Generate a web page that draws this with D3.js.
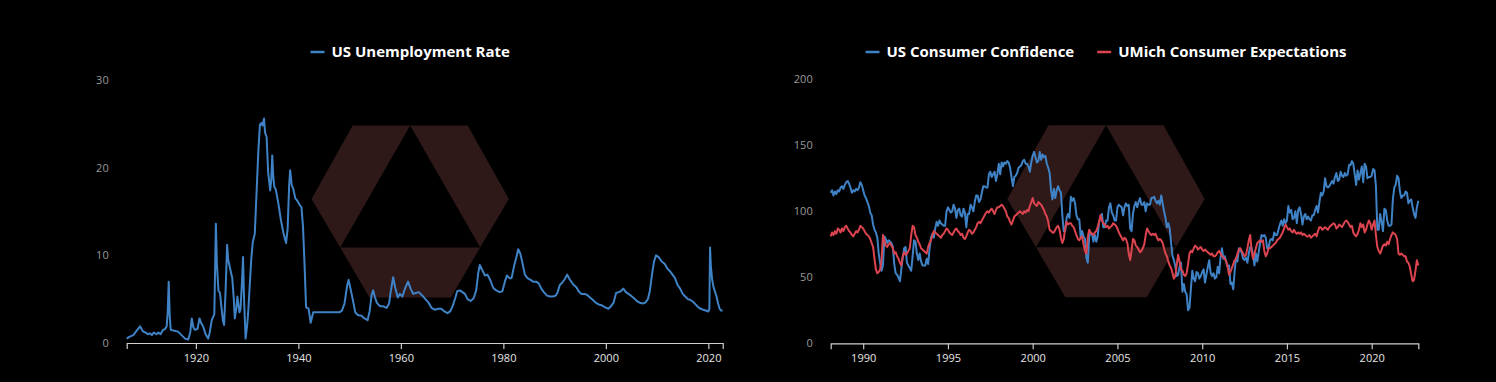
<!DOCTYPE html>
<html><head><meta charset="utf-8">
<script src="https://cdn.jsdelivr.net/npm/d3@7"></script>
<style>html,body{margin:0;padding:0;background:#000;} svg{display:block;}</style>
</head><body>
<svg id="chart" width="1496" height="382"></svg>
<script>
// ---------------- DATA ----------------
const unempLabel = "US Unemployment Rate";
const unempYears = [
1906.5,1907.0,1907.8,1908.3,1909.1,1909.4,1909.7,1910.2,1910.6,1911.0,1911.4,1911.8,1912.3,1912.7,1913.1,1913.6,1914.0,1914.3,1914.5,1914.7,1914.9,1915.1,1915.8,1916.5,1917.2,1917.9,1918.5,1918.9,1919.2,1919.5,1919.8,1920.3,1920.7,1921.0,1921.4,1921.9,1922.4,1922.7,1923.1,1923.6,1923.9,1924.1,1924.4,1924.7,1925.0,1925.3,1925.5,1925.8,1926.1,1926.3,1926.6,1927.1,1927.4,1927.6,1927.9,1928.1,1928.5,1928.7,1929.0,1929.2,1929.4,1929.7,1930.0,1930.2,1930.5,1930.8,1931.1,1931.5,1931.9,1932.2,1932.5,1932.8,1933.0,1933.3,1933.5,1933.8,1934.1,1934.5,1934.7,1934.9,1935.1,1935.3,1935.6,1936.1,1936.6,1937.1,1937.6,1937.9,1938.2,1938.4,1938.7,1939.0,1939.4,1939.7,1940.3,1940.6,1940.9,1941.2,1941.5,1942.0,1942.4,1942.9,1948.0,1948.5,1949.0,1949.5,1949.8,1950.1,1950.6,1951.1,1951.6,1952.3,1952.9,1953.5,1953.9,1954.3,1954.6,1954.9,1955.3,1955.9,1956.5,1957.2,1957.7,1958.0,1958.5,1958.9,1959.4,1959.8,1960.3,1960.8,1961.4,1961.9,1962.4,1962.9,1963.5,1964.2,1964.8,1965.4,1966.0,1966.6,1967.3,1967.9,1968.5,1969.1,1969.6,1970.1,1970.6,1971.0,1971.5,1972.0,1972.5,1973.0,1973.6,1974.2,1974.7,1975.1,1975.4,1975.9,1976.4,1976.9,1977.5,1978.0,1978.6,1979.3,1979.8,1980.3,1980.7,1981.2,1981.6,1982.1,1982.5,1982.9,1983.3,1983.7,1984.2,1984.7,1985.3,1985.8,1986.4,1986.9,1987.4,1987.9,1988.5,1989.1,1989.7,1990.2,1990.6,1991.0,1991.5,1992.0,1992.45,1992.9,1993.6,1994.2,1994.7,1995.2,1995.8,1996.3,1996.9,1997.5,1998.0,1998.6,1999.2,1999.8,2000.5,2001.0,2001.5,2002.0,2002.5,2002.9,2003.4,2003.9,2004.4,2004.9,2005.5,2006.0,2006.6,2007.2,2007.7,2008.2,2008.6,2009.0,2009.4,2009.8,2010.3,2010.9,2011.5,2012.0,2012.5,2013.0,2013.5,2014.0,2014.5,2015.0,2015.5,2016.0,2016.5,2017.0,2017.5,2018.0,2018.5,2019.0,2019.5,2020.0,2020.2,2020.33,2020.5,2020.75,2021.0,2021.3,2021.6,2021.9,2022.2,2022.5,2022.8];
const unempValues = [
0.5,0.7,0.9,1.3,1.9,1.6,1.3,1.2,1.0,1.1,0.9,1.2,1.0,1.2,1.0,1.5,1.6,1.9,3.5,7.0,3.0,1.5,1.4,1.3,0.9,0.5,0.4,1.2,2.8,1.8,1.5,1.6,2.8,2.3,1.9,1.0,0.5,1.2,2.6,3.3,13.6,9.0,6.0,5.7,4.0,2.5,2.05,6.0,11.2,9.5,8.7,7.4,5.0,2.8,4.0,5.3,3.5,3.8,7.0,9.8,5.0,0.5,2.0,3.4,6.5,9.5,11.5,12.5,18.0,22.0,24.9,25.1,24.8,25.6,24.0,23.5,19.5,17.4,18.5,21.4,19.0,17.8,17.5,15.9,14.0,12.5,11.4,13.0,18.0,19.7,18.0,17.6,16.5,16.3,15.7,15.5,13.3,9.0,4.1,3.9,2.3,3.5,3.5,3.7,4.5,6.5,7.2,6.4,5.0,3.5,3.2,3.1,2.8,2.6,3.6,5.5,6.0,5.3,4.6,4.2,4.2,4.0,4.5,5.8,7.5,6.3,5.2,5.6,5.3,6.2,7.0,6.2,5.6,5.7,5.8,5.4,5.0,4.6,4.0,3.8,3.9,3.9,3.6,3.4,3.6,4.2,5.1,5.9,6.0,5.8,5.6,5.0,4.8,5.1,6.0,8.0,8.9,8.3,7.7,7.8,7.1,6.3,6.0,5.8,5.9,7.0,7.7,7.4,7.4,8.8,9.7,10.7,10.2,9.2,7.8,7.4,7.2,7.0,7.0,6.8,6.2,5.8,5.4,5.3,5.3,5.4,5.8,6.6,6.9,7.3,7.8,7.3,6.7,6.4,5.9,5.6,5.6,5.5,5.2,4.9,4.6,4.4,4.3,4.1,3.9,4.2,4.6,5.7,5.8,5.9,6.2,5.8,5.6,5.4,5.1,4.8,4.6,4.5,4.6,5.0,6.0,7.8,9.3,10.0,9.8,9.3,9.0,8.5,8.2,7.8,7.4,6.6,6.2,5.6,5.3,5.0,4.9,4.7,4.4,4.1,3.9,3.8,3.7,3.6,3.9,10.9,8.7,7.2,6.4,5.85,5.3,4.5,3.9,3.7,3.7];
const unempYTicks = [0, 10, 20, 30];
const unempXTicks = [1920, 1940, 1960, 1980, 2000, 2020];

// Monthly, first month Jan 1988 (plotted at month end)
const confLabel = "US Consumer Confidence";
const confValues = [
114,116,112,115,113,116,115,118,119,117,120,122,
123,121,118,114,116,115,117,116,118,122,120,116,
112,110,107,104,99,97,90,86,84,80,68,61,
55,59,81,79,76,78,77,76,73,60,53,52,
50,47,56,65,72,73,61,59,57,55,66,78,
77,68,63,68,62,59,59,59,64,60,72,80,
83,80,87,92,89,93,91,90,89,89,100,103,
101,99,100,105,102,95,101,102,97,96,102,99,
88,98,98,105,103,100,107,112,112,107,109,114,
119,119,118,118,128,130,126,128,130,123,128,136,
128,137,134,137,136,138,137,133,126,119,126,127,
129,133,134,135,138,139,136,136,134,130,137,142,
145,141,137,138,145,139,143,141,142,136,133,129,
116,109,117,110,116,119,116,114,97,85,85,95,
98,95,111,108,110,106,97,94,94,80,85,81,
79,65,61,81,84,83,77,82,77,81,92,95,
98,88,88,93,93,103,106,99,97,93,93,103,
105,104,103,97,103,106,104,105,87,85,98,104,
107,103,107,110,105,105,107,100,106,105,105,110,
110,111,108,106,108,105,112,106,100,95,88,91,
87,76,66,63,58,51,52,58,61,39,45,39,
37,25,27,41,55,49,47,54,53,49,51,54,
56,46,52,58,63,53,51,53,49,50,58,53,
65,72,64,66,62,58,59,45,46,41,55,65,
62,72,70,69,64,63,65,61,68,73,72,67,
59,68,62,69,76,82,81,82,80,72,72,78,
79,78,84,82,82,86,90,93,89,94,91,93,
104,99,101,94,95,100,91,101,103,98,90,96,
98,94,96,94,93,97,97,101,104,99,107,114,
112,115,125,119,118,119,121,123,121,126,129,123,
124,130,127,126,129,127,128,135,135,138,136,128,
120,131,124,129,134,122,136,134,125,126,126,127,
132,131,119,86,86,98,92,85,102,101,93,89,
89,90,109,118,120,127,125,115,110,112,112,115,
114,106,108,109,103,98,95,103,108];

const expLabel = "UMich Consumer Expectations";
const expValues = [
81,84,82,85,83,87,86,84,87,85,88,
89,87,85,84,82,81,83,85,84,86,89,88,
87,85,83,82,81,79,76,73,64,56,53,54,
56,63,82,78,74,73,75,76,74,72,68,69,
66,64,61,59,66,69,67,68,70,72,82,89,
88,82,80,77,75,72,71,70,69,68,73,76,
78,82,85,84,83,82,81,80,82,83,85,87,
86,84,83,82,84,86,87,85,84,82,83,80,
79,81,84,86,85,83,84,86,88,91,92,91,
93,95,97,99,100,99,101,102,100,98,101,103,
103,104,105,104,102,100,96,95,92,90,93,96,
97,98,99,100,99,98,100,99,101,100,104,107,
110,106,105,104,107,106,105,103,101,98,96,92,
86,85,84,84,86,88,89,86,80,76,79,87,
92,90,91,91,89,88,85,82,79,78,80,81,
75,70,68,80,86,84,83,82,84,85,88,92,
97,93,91,90,88,89,87,88,89,91,90,89,
87,84,82,80,78,80,79,76,68,63,70,79,
78,74,73,71,69,70,72,75,82,87,85,83,
82,83,82,83,80,78,79,78,76,72,68,66,
62,59,57,53,49,51,60,67,62,56,55,52,
51,53,60,68,70,69,72,74,73,71,72,73,
71,70,71,70,69,68,67,68,66,66,67,69,
70,68,66,65,64,62,58,52,54,57,60,63,
64,68,71,72,70,68,66,67,72,78,82,70,
64,68,72,76,77,78,77,78,70,66,68,72,
72,73,74,75,76,78,79,80,82,84,87,90,
88,86,87,85,84,86,84,83,84,83,84,82,
83,82,81,81,82,80,81,82,83,81,85,88,
88,86,87,88,87,86,88,89,90,91,90,87,
88,90,89,88,90,92,93,92,90,88,89,84,
82,81,83,86,91,88,90,84,86,90,93,91,
86,90,93,82,73,70,68,71,74,75,74,77,
75,79,82,84,83,82,79,68,67,68,67,66,
66,62,61,58,52,47,48,55,63,59];
const confStartYear = 1988;
const confYTicks = [0, 50, 100, 150, 200];
const confXTicks = [1990, 1995, 2000, 2005, 2010, 2015, 2020];

// ---------------- DRAWING ----------------
const BLUE = "#3f83c6", RED = "#dc4550", LOGO = "#2e1818";
const FONT = "'Open Sans', Lato, sans-serif";
const svg = d3.select("#chart");
svg.append("rect").attr("width", 1496).attr("height", 382).attr("fill", "#000");

function drawLogo(g, cx, top) {
  const pieces = [
    [[-57.5,0],[0,0],[-70,122],[-98.7,73.6]],
    [[0,0],[57.5,0],[98.7,73.6],[70,122]],
    [[-70,122],[70,122],[40.7,172],[-40.7,172]]
  ];
  g.selectAll("path.logo").data(pieces).join("path")
    .attr("class","logo")
    .attr("d", p => "M" + p.map(q => (cx+q[0]) + "," + (top+q[1])).join("L") + "Z")
    .attr("fill", LOGO);
}

function drawLegend(g, cx, items) {
  const lg = g.append("g");
  let x = 0;
  items.forEach((it, i) => {
    const ig = lg.append("g").attr("transform", `translate(${x},0)`);
    ig.append("line").attr("x1",0).attr("x2",14).attr("y1",0).attr("y2",0)
      .attr("stroke", it.color).attr("stroke-width", 2.5);
    const t = ig.append("text").attr("x", 21).attr("y", 0).attr("dy","0.35em")
      .attr("fill","#fff").attr("font-family",FONT).attr("font-weight",700)
      .attr("font-size",15).text(it.label);
    x += 21 + t.node().getComputedTextLength() + 23;
  });
  const total = x - 23;
  lg.attr("transform", `translate(${cx - total/2},52)`);
}

function panel(cfg) {
  const g = svg.append("g");
  const x = d3.scaleLinear().domain(d3.extent(cfg.series.flatMap(s => s.x))).range(cfg.xr);
  const y = d3.scaleLinear().domain([cfg.yTicks[0], cfg.yTicks[cfg.yTicks.length-1]]).range(cfg.yr);

  drawLogo(g, cfg.cx, (cfg.yr[0] + cfg.yr[1]) / 2 - 86);

  // y labels
  g.append("g").selectAll("text").data(cfg.yTicks).join("text")
    .attr("x", cfg.xr[0] - 18).attr("y", d => y(d)).attr("dy","0.35em")
    .attr("text-anchor","end").attr("fill","#9a9a9a")
    .attr("font-family",FONT).attr("font-size",11).text(d => d);

  // x axis
  const ax = g.append("g").attr("transform", `translate(0,${cfg.yr[0]})`)
    .call(d3.axisBottom(x).tickValues(cfg.xTicks).tickFormat(d3.format("d"))
      .tickSizeOuter(0).tickSize(6).tickPadding(5));
  ax.select(".domain").attr("stroke","#d0d0d0").attr("stroke-width",1.2);
  ax.selectAll(".tick line").attr("stroke","#c8c8c8").attr("stroke-width",1.2);
  ax.selectAll(".tick text").attr("fill","#e6e6e6").attr("font-family",FONT).attr("font-size",11);

  // lines
  cfg.series.forEach(s => {
    const pts = s.x.map((d,i) => [d, s.y[i]]);
    g.append("path").datum(pts)
      .attr("fill","none").attr("stroke", s.color).attr("stroke-width", 2)
      .attr("stroke-linejoin","round")
      .attr("d", d3.line().x(d => x(d[0])).y(d => y(d[1])));
  });

  drawLegend(g, cfg.cx, cfg.series.map(s => ({label: s.label, color: s.color})));
}

const monthPos = (vals) => vals.map((v,i) => confStartYear + (i+1)/12);

panel({
  xr: [126.7, 722.7], yr: [343, 80], cx: 410.2,
  yTicks: unempYTicks, xTicks: unempXTicks,
  series: [{label: unempLabel, color: BLUE, x: unempYears, y: unempValues}]
});
panel({
  xr: [830.7, 1418.3], yr: [343.3, 79.3], cx: 1106,
  yTicks: confYTicks, xTicks: confXTicks,
  series: [
    {label: confLabel, color: BLUE, x: monthPos(confValues), y: confValues},
    {label: expLabel, color: RED, x: monthPos(expValues), y: expValues}
  ]
});
</script>
</body></html>
